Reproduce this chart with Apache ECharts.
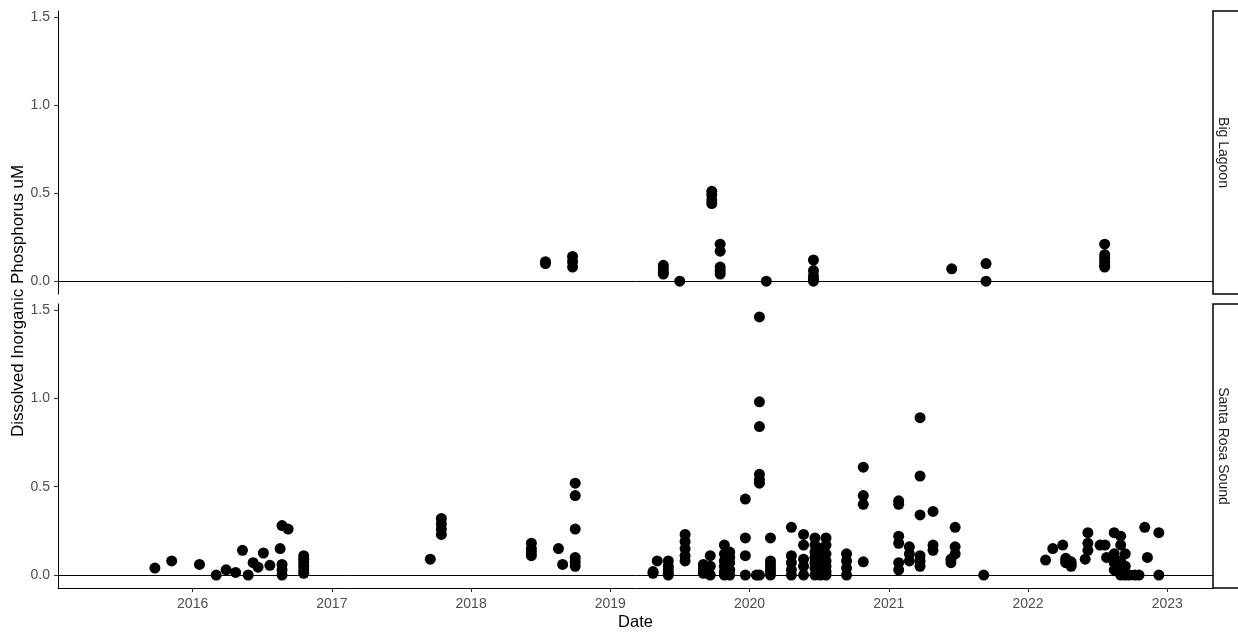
<!DOCTYPE html>
<html>
<head>
<meta charset="utf-8">
<title>Dissolved Inorganic Phosphorus</title>
<script src="https://cdn.jsdelivr.net/npm/echarts@6/dist/echarts.min.js"></script>
<style>
  html, body { margin: 0; padding: 0; background: #fff; }
  #chart { width: 1238px; height: 635px; }
</style>
</head>
<body>
<div id="chart"></div>
<script>
// facet labels
const sites = ['Big Lagoon', 'Santa Rosa Sound']

// sampling date -> measured values (uM)
const bigLagoon = [
  ['2018-07-15', [0.10, 0.11]],
  ['2018-09-24', [0.14, 0.11, 0.08]],
  ['2019-05-20', [0.09, 0.07, 0.05, 0.04]],
  ['2019-07-02', [0.0]],
  ['2019-09-24', [0.51, 0.49, 0.46, 0.44]],
  ['2019-10-16', [0.21, 0.17, 0.08, 0.06, 0.04]],
  ['2020-02-14', [0.0]],
  ['2020-06-17', [0.12, 0.06, 0.03, 0.01, 0.0]],
  ['2021-06-15', [0.07]],
  ['2021-09-13', [0.10, 0.0]],
  ['2022-07-21', [0.21, 0.15, 0.13, 0.11, 0.09, 0.08]]
]

const santaRosaSound = [
  ['2015-09-24', [0.04]],
  ['2015-11-07', [0.08]],
  ['2016-01-19', [0.06]],
  ['2016-03-03', [0.0]],
  ['2016-03-29', [0.03]],
  ['2016-04-23', [0.015]],
  ['2016-05-11', [0.14]],
  ['2016-05-26', [0.0]],
  ['2016-06-08', [0.07]],
  ['2016-06-21', [0.045]],
  ['2016-07-05', [0.125]],
  ['2016-07-22', [0.055]],
  ['2016-08-18', [0.15]],
  ['2016-08-23', [0.28, 0.06, 0.03, 0.0]],
  ['2016-09-08', [0.26]],
  ['2016-10-19', [0.11, 0.09, 0.07, 0.05, 0.03, 0.01]],
  ['2017-09-16', [0.09]],
  ['2017-10-15', [0.32, 0.29, 0.26, 0.23]],
  ['2018-06-08', [0.18, 0.15, 0.13, 0.11]],
  ['2018-08-18', [0.15]],
  ['2018-08-29', [0.06]],
  ['2018-10-01', [0.52, 0.45, 0.26, 0.10, 0.075, 0.05]],
  ['2019-04-23', [0.02, 0.01]],
  ['2019-05-04', [0.08]],
  ['2019-06-02', [0.08, 0.05, 0.03, 0.01, 0.0]],
  ['2019-07-16', [0.23, 0.19, 0.15, 0.11, 0.08]],
  ['2019-09-02', [0.06, 0.04, 0.02, 0.01]],
  ['2019-09-20', [0.11, 0.05, 0.0]],
  ['2019-10-27', [0.17, 0.12, 0.08, 0.05, 0.02, 0.0]],
  ['2019-11-10', [0.13, 0.10, 0.07, 0.03, 0.0]],
  ['2019-12-21', [0.43, 0.21, 0.11, 0.0]],
  ['2020-01-19', [0.0]],
  ['2020-01-27', [1.46, 0.98, 0.84, 0.57, 0.54, 0.52, 0.0]],
  ['2020-02-25', [0.21, 0.08, 0.06, 0.04, 0.02, 0.0]],
  ['2020-04-20', [0.27, 0.11, 0.07, 0.03, 0.0]],
  ['2020-05-22', [0.23, 0.17, 0.09, 0.05, 0.0]],
  ['2020-06-21', [0.21, 0.17, 0.13, 0.10, 0.07, 0.04, 0.0]],
  ['2020-07-05', [0.15, 0.11, 0.06, 0.02, 0.0]],
  ['2020-07-20', [0.21, 0.17, 0.12, 0.08, 0.05, 0.02, 0.0]],
  ['2020-09-12', [0.12, 0.08, 0.04, 0.0]],
  ['2020-10-26', [0.61, 0.45, 0.40, 0.075]],
  ['2021-01-27', [0.42, 0.40, 0.22, 0.18, 0.07, 0.03]],
  ['2021-02-24', [0.16, 0.12, 0.08]],
  ['2021-03-24', [0.89, 0.56, 0.34, 0.11, 0.08, 0.05]],
  ['2021-04-27', [0.36, 0.17, 0.14]],
  ['2021-06-13', [0.09, 0.07]],
  ['2021-06-24', [0.27, 0.16, 0.12]],
  ['2021-09-07', [0.0]],
  ['2022-02-16', [0.085]],
  ['2022-03-07', [0.15]],
  ['2022-04-02', [0.17]],
  ['2022-04-10', [0.095, 0.08, 0.07]],
  ['2022-04-24', [0.075, 0.06, 0.05]],
  ['2022-05-31', [0.09]],
  ['2022-06-07', [0.24, 0.18, 0.14]],
  ['2022-07-09', [0.17]],
  ['2022-07-22', [0.17]],
  ['2022-07-26', [0.10]],
  ['2022-08-15', [0.24, 0.12, 0.09, 0.07, 0.03]],
  ['2022-09-01', [0.22, 0.17, 0.08, 0.05, 0.02, 0.0]],
  ['2022-09-13', [0.12, 0.05, 0.01, 0.0]],
  ['2022-09-24', [0.0]],
  ['2022-10-08', [0.0]],
  ['2022-10-19', [0.0]],
  ['2022-11-03', [0.27]],
  ['2022-11-10', [0.10]],
  ['2022-12-10', [0.24, 0.0]]
]

const yearTicks = [2016, 2017, 2018, 2019, 2020, 2021, 2022, 2023]
const yTicks = [0, 0.5, 1.0, 1.5]

const font = 'Liberation Sans, Arial, sans-serif'

// 'YYYY-MM-DD' -> decimal year, so the x axis can be a plain value axis
function toYear(s) {
  const [y, m, d] = s.split('-').map(Number)
  const start = Date.UTC(y, 0, 1)
  const end = Date.UTC(y + 1, 0, 1)
  return y + (Date.UTC(y, m - 1, d) - start) / (end - start)
}

function flatten(rows) {
  const out = []
  rows.forEach(([d, vals]) => vals.forEach(v => out.push([toYear(d), v])))
  return out
}

const xMin = toYear('2015-01-13')
const xMax = toYear('2023-05-01')

function xAxisFor(gridIndex, bottom) {
  return {
    type: 'value',
    gridIndex,
    min: xMin,
    max: xMax,
    name: bottom ? 'Date' : '',
    nameLocation: 'middle',
    nameGap: 26,
    nameTextStyle: { fontFamily: font, fontSize: 16.5, color: '#000' },
    axisLine: { show: bottom, onZero: false, lineStyle: { color: '#000', width: 1 } },
    axisTick: { show: bottom, length: 4, customValues: yearTicks, lineStyle: { color: '#333' } },
    axisLabel: {
      show: bottom,
      customValues: yearTicks,
      margin: 9,
      fontFamily: font,
      fontSize: 14,
      color: '#4d4d4d',
      formatter: (v) => String(Math.round(v))
    },
    splitLine: { show: false }
  }
}

function yAxisFor(gridIndex) {
  return {
    type: 'value',
    gridIndex,
    min: -0.073,
    max: 1.533,
    axisLine: { show: true, lineStyle: { color: '#000', width: 1 } },
    axisTick: { show: true, length: 4, customValues: yTicks, lineStyle: { color: '#333' } },
    axisLabel: {
      customValues: yTicks,
      margin: 8,
      fontFamily: font,
      fontSize: 14,
      color: '#4d4d4d',
      formatter: (v) => v.toFixed(1)
    },
    splitLine: { show: false }
  }
}

function seriesFor(rows, idx) {
  return {
    type: 'scatter',
    xAxisIndex: idx,
    yAxisIndex: idx,
    data: flatten(rows),
    symbolSize: 11,
    itemStyle: { color: '#000', opacity: 1 },
    silent: true,
    markLine: {
      silent: true,
      symbol: 'none',
      label: { show: false },
      lineStyle: { color: '#000', width: 1, type: 'solid' },
      data: [{ yAxis: 0 }]
    }
  }
}

const panels = [
  { top: 11, height: 283 },
  { top: 304, height: 284 }
]

function stripFor(p, label) {
  return [
    {
      type: 'rect',
      shape: { x: 1213, y: p.top, width: 40, height: p.height },
      style: { fill: '#fff', stroke: '#000', lineWidth: 1.5 },
      z: 10
    },
    {
      type: 'text',
      x: 1223,
      y: p.top + p.height / 2,
      rotation: -Math.PI / 2,
      style: {
        text: label,
        fontFamily: font,
        fontSize: 14,
        fill: '#1a1a1a',
        align: 'center',
        verticalAlign: 'middle'
      },
      z: 11
    }
  ]
}

const chart = echarts.init(document.getElementById('chart'), null, { renderer: 'canvas' })

chart.setOption({
  backgroundColor: '#fff',
  animation: false,
  grid: panels.map(p => ({ left: 58, right: 25, top: p.top, height: p.height })),
  xAxis: [xAxisFor(0, false), xAxisFor(1, true)],
  yAxis: [yAxisFor(0), yAxisFor(1)],
  series: [seriesFor(bigLagoon, 0), seriesFor(santaRosaSound, 1)],
  graphic: [
    ...stripFor(panels[0], sites[0]),
    ...stripFor(panels[1], sites[1]),
    {
      type: 'text',
      x: 18,
      y: 301,
      rotation: Math.PI / 2,
      style: {
        text: 'Dissolved Inorganic Phosphorus uM',
        fontFamily: font,
        fontSize: 17,
        fill: '#000',
        align: 'center',
        verticalAlign: 'middle'
      }
    }
  ]
})

window.addEventListener('resize', () => chart.resize())
</script>
</body>
</html>
